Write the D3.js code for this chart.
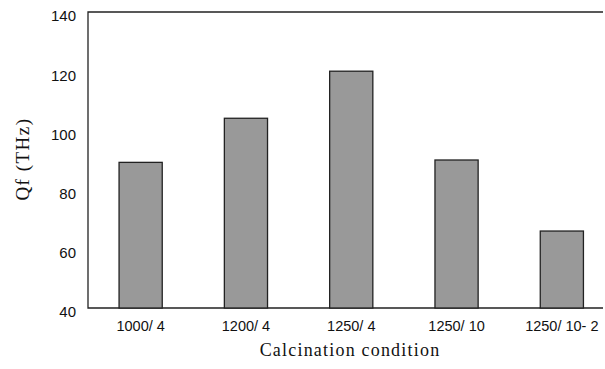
<!DOCTYPE html>
<html>
<head>
<meta charset="utf-8">
<script src="https://cdn.jsdelivr.net/npm/d3@7"></script>
<style>
  body { margin: 0; background: #fff; }
  svg { display: block; }
</style>
</head>
<body>
<svg id="drawing_region"></svg>
<script>
const categories = ["1000/ 4", "1200/ 4", "1250/ 4", "1250/ 10", "1250/ 10- 2"];
const qfValues = [89.2, 104.1, 120.0, 90.0, 66.0];
const yTicks = [40, 60, 80, 100, 120, 140];

const width = 605, height = 369;
const margin = {top: 12, left: 88, bottom: 61};
const plotRight = 614.5;

const svg = d3.select('#drawing_region')
    .attr('width', width)
    .attr('height', height);

const xscale = d3.scaleBand()
    .domain(categories)
    .range([margin.left, plotRight])
    .paddingInner(0.59)
    .paddingOuter(0.295);

const yscale = d3.scaleLinear()
    .domain([40, 140])
    .range([height - margin.bottom, margin.top]);

// frame: left, top, bottom lines
const y0 = yscale(40), y1 = yscale(140);
svg.append('path')
    .attr('d', `M${width - 2},${y1}H${margin.left}V${y0}H${width - 2}`)
    .attr('fill', 'none')
    .attr('stroke', '#222')
    .attr('stroke-width', 1.3);

// bars
svg.selectAll('rect.bar')
    .data(qfValues)
    .enter()
    .append('rect')
    .attr('class', 'bar')
    .attr('x', (d, i) => xscale(categories[i]))
    .attr('y', d => yscale(d))
    .attr('width', xscale.bandwidth())
    .attr('height', d => y0 - yscale(d))
    .attr('fill', '#999999')
    .attr('stroke', '#222')
    .attr('stroke-width', 1.3);

// y axis
const yaxis = d3.axisLeft(yscale)
    .tickValues(yTicks)
    .tickSize(0)
    .tickPadding(12);

svg.append('g')
    .attr('transform', `translate(${margin.left}, 4)`)
    .call(yaxis)
    .call(g => g.select('.domain').remove())
    .selectAll('text')
    .attr('font-family', '"Liberation Sans", Arial, sans-serif')
    .attr('font-size', 15)
    .attr('fill', '#111');

// x axis
const xaxis = d3.axisBottom(xscale)
    .tickSize(0)
    .tickPadding(13);

svg.append('g')
    .attr('transform', `translate(0, ${y0})`)
    .call(xaxis)
    .call(g => g.select('.domain').remove())
    .selectAll('text')
    .attr('font-family', '"Liberation Sans", Arial, sans-serif')
    .attr('font-size', 14.5)
    .attr('fill', '#111');

// axis titles
svg.append('text')
    .attr('x', 350)
    .attr('y', 356)
    .attr('text-anchor', 'middle')
    .attr('font-family', '"Liberation Serif", "Times New Roman", serif')
    .attr('font-size', 18)
    .attr('letter-spacing', 1.2)
    .attr('fill', '#111')
    .text('Calcination condition');

svg.append('text')
    .attr('transform', 'translate(29, 159) rotate(-90)')
    .attr('text-anchor', 'middle')
    .attr('font-family', '"Liberation Serif", "Times New Roman", serif')
    .attr('font-size', 19)
    .attr('letter-spacing', 1.5)
    .attr('fill', '#111')
    .text('Qf (THz)');
</script>
</body>
</html>
